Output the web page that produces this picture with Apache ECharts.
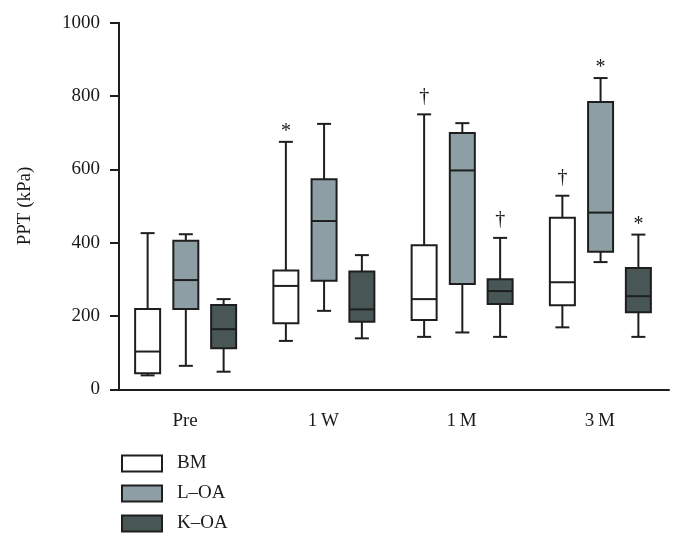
<!DOCTYPE html>
<html>
<head>
<meta charset="utf-8">
<script src="https://cdn.jsdelivr.net/npm/echarts@6/dist/echarts.min.js"></script>
<style>html,body{margin:0;padding:0;background:#fff;}#c{width:682px;height:545px;}</style>
</head>
<body>
<div id="c"></div>
<script>
// Categories and tick labels
var categories = ['Pre', '1\u2009W', '1\u2009M', '3\u2009M'];
var yTicks = [0, 200, 400, 600, 800, 1000];
// Box statistics per category: [min, q1, median, q3, max]
var bmValues = [
  [38, 44, 103, 219, 426],
  [132, 180, 282, 324, 675],
  [143, 189, 246, 393, 750],
  [169, 229, 292, 468, 528]
];
var loaValues = [
  [64, 219, 298, 405, 423],
  [214, 296, 459, 573, 724],
  [155, 287, 597, 699, 726],
  [347, 375, 482, 784, 849]
];
var koaValues = [
  [48, 112, 164, 230, 246],
  [139, 184, 218, 321, 366],
  [143, 233, 268, 300, 413],
  [143, 210, 254, 331, 422]
];
// Significance marks above whiskers
var bmMarks = ['', '*', '\u2020', '\u2020'];
var loaMarks = ['', '', '', '*'];
var koaMarks = ['', '', '\u2020', '*'];

var FONT = '"Liberation Serif", "DejaVu Serif", serif';
var LINE = '#1e1e1e';
var TXT = '#1a1a1a';

function makeSeries(name, values, marks, fill, offsetPx) {
  var data = values.map(function (v, i) { return [i].concat(v); });
  return {
    name: name,
    type: 'custom',
    itemStyle: { color: fill, borderColor: LINE, borderWidth: 2 },
    encode: { x: 0, y: [1, 2, 3, 4, 5] },
    data: data,
    renderItem: function (params, api) {
      var cat = api.value(0);
      var p = [];
      for (var k = 1; k <= 5; k++) p.push(api.coord([cat, api.value(k)]));
      var cx = p[0][0] + offsetPx;
      var bw = 25, cap = 14;
      var ls = { stroke: LINE, lineWidth: 2 };
      var children = [
        { type: 'line', shape: { x1: cx, y1: p[3][1], x2: cx, y2: p[4][1] }, style: ls },
        { type: 'line', shape: { x1: cx, y1: p[1][1], x2: cx, y2: p[0][1] }, style: ls },
        { type: 'line', shape: { x1: cx - cap / 2, y1: p[4][1], x2: cx + cap / 2, y2: p[4][1] }, style: ls },
        { type: 'line', shape: { x1: cx - cap / 2, y1: p[0][1], x2: cx + cap / 2, y2: p[0][1] }, style: ls },
        { type: 'rect', shape: { x: cx - bw / 2, y: p[3][1], width: bw, height: p[1][1] - p[3][1] },
          style: { fill: fill, stroke: LINE, lineWidth: 2 } },
        { type: 'line', shape: { x1: cx - bw / 2, y1: p[2][1], x2: cx + bw / 2, y2: p[2][1] }, style: ls }
      ];
      var m = marks[params.dataIndex];
      if (m) {
        var dy = m === '*' ? -10 : -18;
        children.push({
          type: 'text',
          style: { text: m, x: cx, y: p[4][1] + dy, align: 'center', verticalAlign: 'middle',
                   fill: TXT, font: '20px ' + FONT }
        });
      }
      return { type: 'group', children: children };
    }
  };
}

var chart = echarts.init(document.getElementById('c'), null, { renderer: 'canvas' });
chart.setOption({
  animation: false,
  backgroundColor: '#fff',
  grid: { left: 116, right: 13, top: 22.7, bottom: 155.7 },
  legend: {
    orient: 'vertical',
    left: 121,
    top: 454,
    padding: 0,
    itemWidth: 40,
    itemHeight: 16,
    itemGap: 11,
    icon: 'rect',
    textStyle: { fontFamily: FONT, fontSize: 19, color: TXT, padding: [0, 0, 0, 10] },
    data: [
      { name: 'BM', itemStyle: { color: '#ffffff', borderColor: LINE, borderWidth: 2 } },
      { name: 'L\u2013OA', itemStyle: { color: '#8e9ea5', borderColor: LINE, borderWidth: 2 } },
      { name: 'K\u2013OA', itemStyle: { color: '#485656', borderColor: LINE, borderWidth: 2 } }
    ]
  },
  xAxis: {
    type: 'category',
    data: categories,
    boundaryGap: true,
    axisLine: { lineStyle: { color: LINE, width: 2 } },
    axisTick: { alignWithLabel: true, length: 10, lineStyle: { color: LINE, width: 2 } },
    axisLabel: { fontFamily: FONT, fontSize: 19, color: TXT, margin: 22 },
    splitLine: { show: false }
  },
  yAxis: {
    type: 'value',
    min: yTicks[0],
    max: yTicks[yTicks.length - 1],
    interval: 200,
    offset: -3,
    name: 'PPT (kPa)',
    nameLocation: 'middle',
    nameGap: 84,
    nameTextStyle: { fontFamily: FONT, fontSize: 19, color: TXT },
    axisLine: { show: true, lineStyle: { color: LINE, width: 2 } },
    axisTick: { show: true, length: 9, lineStyle: { color: LINE, width: 2 } },
    axisLabel: { fontFamily: FONT, fontSize: 19, color: TXT, margin: 19,
                 formatter: function (v) { return String(v); } },
    splitLine: { show: false }
  },
  series: [
    makeSeries('BM', bmValues, bmMarks, '#ffffff', -37.5),
    makeSeries('L\u2013OA', loaValues, loaMarks, '#8e9ea5', 0.7),
    makeSeries('K\u2013OA', koaValues, koaMarks, '#485656', 38.5)
  ]
});
</script>
</body>
</html>
